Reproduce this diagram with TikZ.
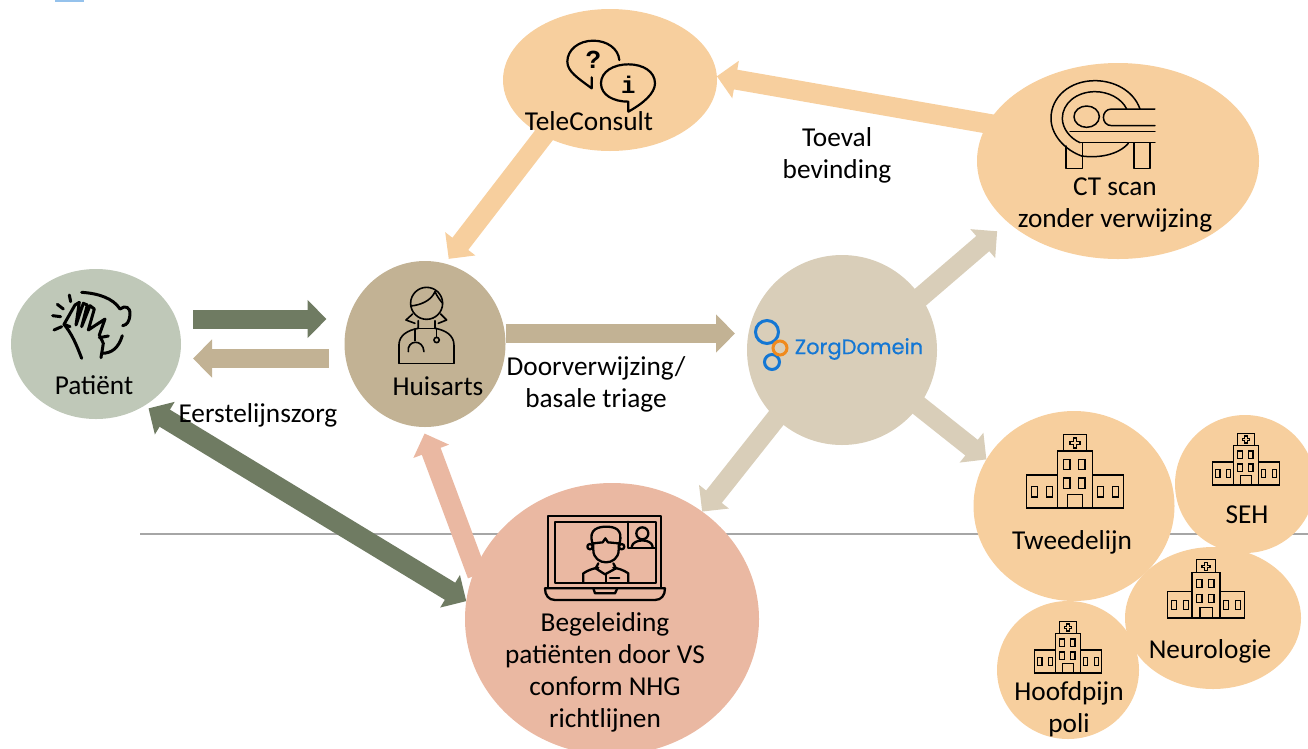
\documentclass[tikz,border=0pt]{standalone}
\usepackage{fontspec}
\setmainfont{Carlito}
\newfontfamily\logofont{Poppins}[FakeBold=0.6]
\newfontfamily\iconfont{Liberation Mono}
\usetikzlibrary{shapes.geometric,arrows.meta,backgrounds}
\definecolor{patcol}{HTML}{BFC8B8}
\definecolor{huiscol}{HTML}{C2B294}
\definecolor{oracol}{HTML}{F7CF9E}
\definecolor{zorgcol}{HTML}{D9CEB9}
\definecolor{begcol}{HTML}{EAB8A2}
\definecolor{darkgr}{HTML}{6F7B62}
\definecolor{logoblue}{HTML}{1477D4}
\definecolor{logoora}{HTML}{F08A1D}
\tikzset{
  blob/.style={ellipse,inner sep=0pt,outer sep=0pt,draw=none},
  lbl/.style={inner sep=0pt,align=center,text=black,font=\fontsize{27.3}{32}\selectfont},
  fat/.style={line width=19pt,-{Triangle[length=19pt,width=37pt]}},
  diag/.style={fat,line width=20pt,shorten <=-6pt},
  icon/.style={line width=#1,line cap=round,line join=round},
  pics/hospital/.style={code={
    \draw (-11.7,-73.3) rectangle (11.7,-57);
    \draw (-17.7,-57) rectangle (17.7,0);
    \draw (-48.3,-33) rectangle (-17.7,0) (17.7,-33) rectangle (48.3,0);
    \draw (-7.7,-13.3) rectangle (7.7,0);
    \foreach \wx in {-11.7,3.3}
      \foreach \wy in {-48.7,-30}
        \draw (\wx,\wy) rectangle ++(6.7,10.4);
    \foreach \wx in {-43.3,-28.3,22.3,37.3}
      \draw (\wx,-21.7) rectangle ++(6,10.7);
    \draw (-1.6,-70) -- (1.6,-70) -- (1.6,-66.6) -- (5,-66.6) -- (5,-63.4) -- (1.6,-63.4) -- (1.6,-60) -- (-1.6,-60) -- (-1.6,-63.4) -- (-5,-63.4) -- (-5,-66.6) -- (-1.6,-66.6) -- cycle;
  }}
}
\begin{document}
\begin{tikzpicture}[x=1pt,y=-1pt]
\useasboundingbox (0,0) rectangle (1308,748);

\node[blob,fill=patcol,minimum width=170pt,minimum height=150pt] (pat) at (96,344) {};
\node[blob,fill=huiscol,minimum width=161pt,minimum height=166pt] (huis) at (425,344) {};
\node[blob,fill=oracol,minimum width=214pt,minimum height=142pt] (tele) at (610,80) {};
\node[blob,fill=oracol,minimum width=282pt,minimum height=196pt] (ct) at (1118,161) {};
\node[blob,fill=zorgcol,minimum width=190pt,minimum height=190pt] (zorg) at (842,350) {};
\node[blob,fill=begcol,minimum width=294pt,minimum height=272pt] (beg) at (612,619) {};
\node[blob,fill=oracol,minimum width=201pt,minimum height=190pt] (tweede) at (1074,506) {};
\node[blob,fill=oracol,minimum width=140pt,minimum height=138pt] (seh) at (1245,484) {};
\node[blob,fill=oracol,minimum width=176pt,minimum height=142pt] (neuro) at (1213,618) {};
\node[blob,fill=oracol,minimum width=142pt,minimum height=138pt] (hoofd) at (1068,670) {};

\begin{scope}[on background layer]
\coordinate (ruleL) at (140,534);
\coordinate (ruleR) at (1308,534);
\draw[line width=1.5pt,black!35] (ruleL) -- (ruleR);
\draw[fat,darkgr,shorten <=12pt,shorten >=18pt] ([yshift=25pt]pat.east) -- ([yshift=25pt]huis.west);
\draw[fat,huiscol,shorten <=16pt,shorten >=12pt] ([yshift=-14.5pt]huis.west) -- ([yshift=-14.5pt]pat.east);
\draw[fat,huiscol,shorten >=12pt] ([yshift=10.5pt]huis.east) -- ([yshift=16.5pt]zorg.west);
\draw[diag,oracol,shorten >=6pt] (tele.220) -- (huis.76);
\draw[diag,oracol] (ct.164) -- (tele.2);
\draw[diag,zorgcol,shorten >=14pt] (zorg.34) -- (ct.209);
\draw[diag,zorgcol] (zorg.-36) -- (tweede.152);
\draw[diag,zorgcol] (zorg.226) -- (beg.50);
\draw[diag,begcol,shorten >=7pt] (beg.160) -- (huis.268);
\draw[line width=20pt,darkgr,{Triangle[length=19pt,width=37pt]}-{Triangle[length=19pt,width=37pt]},shorten <=5pt] (pat.-52) -- (beg.173);
\end{scope}

% small mark on the top edge
\fill[logoblue!45] (55,0) rectangle (84,1.7);

\node[lbl] (patlbl) at (94,385) {Patiënt};
\node[lbl] (huislbl) at (438,386) {Huisarts};
\node[lbl] (eerste) at (258,415) {Eerstelijnszorg};
\node[lbl] (door) at (596,384) {Doorverwijzing/\\basale triage};
\node[lbl] (toeval) at (837,155) {Toeval\\bevinding};
\node[lbl] (telelbl) at (589,121) {TeleConsult};
\node[lbl] (ctlbl) at (1115,205) {CT scan\\zonder verwijzing};
\node[lbl] (tweedelbl) at (1072,542) {Tweedelijn};
\node[lbl] (sehlbl) at (1247,515) {SEH};
\node[lbl] (neurolbl) at (1210,651) {Neurologie};
\node[lbl] (hoofdlbl) at (1069,709) {Hoofdpijn\\poli};
\node[lbl] (beglbl) at (605,672) {Begeleiding\\patiënten door VS\\conform NHG\\richtlijnen};

% hand on forehead
\begin{scope}[shift={(40,285)},x=.3333pt,y=-.3333pt,icon=3pt]
\draw (125,22) .. controls (175,25) and (220,40) .. (240,72) .. controls (255,60) and (272,65) .. (270,90) .. controls (268,108) and (262,120) .. (248,122);
\draw (247,152) .. controls (235,190) and (215,205) .. (185,205);
\draw (72,118) .. controls (95,145) and (110,180) .. (125,220);
\draw (183,218) -- (190,175) -- (178,150) -- (195,102) -- (145,135) -- (163,72) -- (150,62) -- (125,125) -- (142,60) -- (130,55) -- (108,120) -- (118,52) -- (105,60) -- (72,118) -- (90,125);
\draw (178,158) -- (205,153);
\draw (88,30) -- (92,50) (52,58) -- (70,72) (38,92) -- (62,95) (42,135) -- (65,125);
\end{scope}

% doctor
\begin{scope}[shift={(0,250)},x=.3333pt,y=-.3333pt,icon=1.6pt]
\draw (1280,160) circle (48);
\draw (1232,168) .. controls (1265,165) and (1295,150) .. (1305,125);
\draw (1305,125) .. controls (1312,140) and (1320,150) .. (1328,160);
\draw (1238,192) -- (1218,210) -- (1245,220) (1322,192) -- (1340,210) -- (1315,220);
\draw (1197,340) -- (1197,285) .. controls (1197,255) and (1225,240) .. (1255,235) -- (1255,212) (1305,212) -- (1305,235) .. controls (1335,240) and (1362,255) .. (1362,285) -- (1362,340);
\draw (1255,235) -- (1305,235) (1197,340) -- (1362,340);
\draw (1225,305) .. controls (1220,270) and (1270,265) .. (1272,305);
\draw (1245,237) -- (1245,272) (1310,235) -- (1310,262);
\draw (1310,270) circle (8);
\end{scope}

% speech bubbles
\begin{scope}[shift={(480,0)},x=.3333pt,y=-.3333pt,icon=2.2pt]
\draw (418,180) .. controls (415,145) and (380,122) .. (340,122) .. controls (295,122) and (262,150) .. (262,185) .. controls (262,215) and (295,235) .. (335,265) -- (335,232);
\draw (445,335) -- (445,305) .. controls (400,305) and (363,285) .. (363,250) .. controls (363,215) and (400,193) .. (445,193) .. controls (490,193) and (525,215) .. (525,250) .. controls (525,280) and (490,310) .. (445,335);
\node[inner sep=0pt,font=\iconfont\bfseries\fontsize{26}{26}\selectfont] (qmark) at (340,180) {?};
\node[inner sep=0pt,font=\iconfont\bfseries\fontsize{24}{24}\selectfont] (imark) at (445,255) {i};
\end{scope}

% scanner
\begin{scope}[shift={(970,60)},x=.3333pt,y=-.3333pt,icon=1.5pt]
\draw (510,147) .. controls (490,90) and (430,62) .. (375,62) .. controls (300,62) and (243,110) .. (243,175) .. controls (243,225) and (285,270) .. (335,288);
\draw (470,147) .. controls (455,115) and (415,95) .. (375,95) .. controls (320,95) and (277,130) .. (277,175) .. controls (277,205) and (300,235) .. (330,248);
\draw (335,288) .. controls (385,295) and (445,285) .. (475,250);
\draw (350,170) ellipse (38 and 32);
\draw (555,147) -- (425,147) .. controls (392,147) and (392,197) .. (425,197) -- (555,197);
\draw (300,215) -- (555,215) (330,248) -- (555,248);
\draw (288,258) -- (288,325) -- (338,325) -- (338,250);
\draw (492,250) -- (492,325) -- (540,325) -- (540,250);
\end{scope}

% zorgdomein logo
\draw[logoblue,line width=3pt] (767,332) circle (11.5) (772,362) circle (7.5);
\draw[logoora,line width=3pt] (780,348) circle (7);
\node[inner sep=0pt,text=logoblue,font=\logofont\fontsize{21}{21}\selectfont] (logotxt) at (859,349) {ZorgDomein};

% laptop
\begin{scope}[shift={(530,505)},x=.3333pt,y=-.3333pt,icon=2.3pt]
\draw (55,248) -- (55,33) -- (393,33) -- (393,248);
\draw (75,50) rectangle (378,233);
\draw (295,50) -- (295,128) -- (378,128);
\draw (337,85) circle (18);
\draw (305,125) .. controls (310,100) and (365,100) .. (368,125);
\draw (180,125) circle (8) (275,125) circle (8);
\draw (188,116) .. controls (172,70) and (210,65) .. (228,65) .. controls (250,65) and (282,70) .. (268,116);
\draw (190,115) -- (218,112) -- (226,100) -- (234,112) -- (266,115);
\draw (190,115) -- (190,135) .. controls (190,160) and (210,172) .. (228,172) .. controls (246,172) and (266,160) .. (266,135) -- (266,115);
\draw (160,233) -- (160,205) .. controls (175,195) and (190,190) .. (205,188) (250,188) .. controls (265,190) and (280,195) .. (295,205) -- (295,233);
\draw (205,175) -- (197,190) -- (225,208) -- (258,190) -- (250,175);
\draw (228,208) -- (228,233) (240,218) -- (268,218);
\draw (45,250) -- (405,250) .. controls (405,270) and (395,285) .. (375,285) -- (75,285) .. controls (55,285) and (45,270) .. (45,250) -- cycle;
\draw (190,250) -- (195,265) -- (255,265) -- (262,250);
\end{scope}

\pic[line width=1.4pt] at (1075,508) {hospital};
\pic[line width=1.2pt,scale=.7] at (1246,485) {hospital};
\pic[line width=1.2pt,scale=.793] at (1206,618) {hospital};
\pic[line width=1.2pt,scale=.7] at (1068,673) {hospital};
\end{tikzpicture}
\end{document}
